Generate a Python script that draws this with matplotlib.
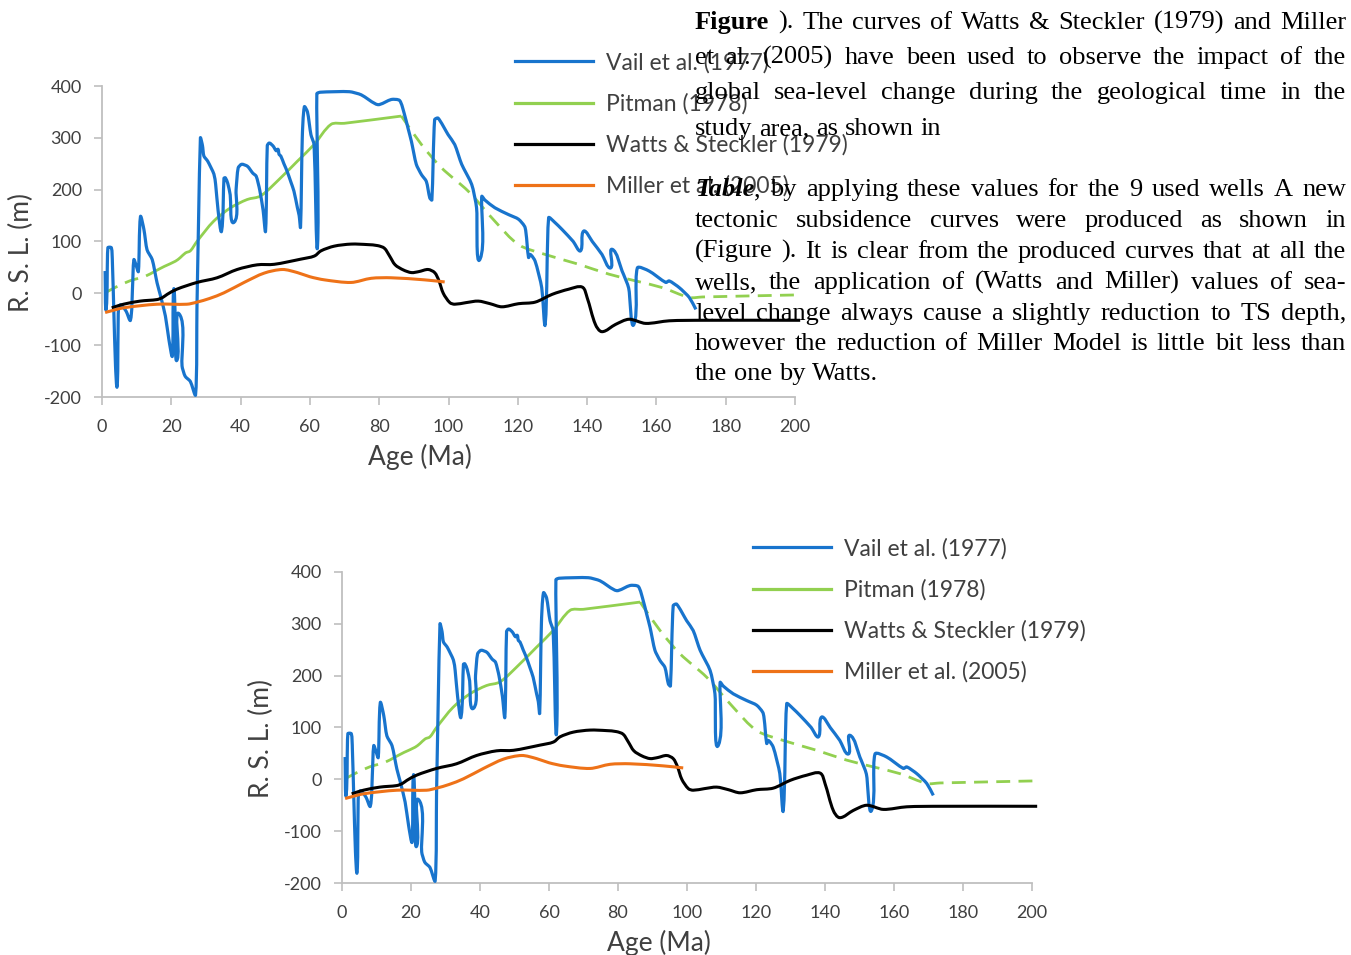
import re
import numpy as np
import matplotlib
matplotlib.use('Agg')
import matplotlib.pyplot as plt
from matplotlib.lines import Line2D
from matplotlib.path import Path
from matplotlib.patches import PathPatch

plt.rcParams['font.family'] = ['Lato', 'DejaVu Sans']
plt.rcParams['axes.unicode_minus'] = False

# Vail et al. (1977) relative sea level, age in Ma, RSL in m
vail_age = [0.9, 1.2, 1.7, 2.7, 3.0, 3.4, 3.9, 4.35, 4.6, 4.8, 5.5, 7.0, 8.2,
            8.8, 9.2, 9.8, 10.5, 11.1, 12.1, 13.0, 14.5, 15.9, 16.9, 18.3,
            19.3, 20.3, 20.7, 21.2, 21.7, 22.3, 23.1, 24.0, 25.5, 27.0,
            27.4, 28.4, 29.0, 29.4, 30.5, 32.3, 32.8, 33.5, 34.5, 35.2, 35.6, 36.3,
            37.0, 38.1, 38.7, 39.3, 40.3, 42.0, 43.5, 44.5, 45.5, 46.5, 47.2, 47.7,
            48.3, 49.4, 50.3, 50.8, 51.1, 51.6, 52.5, 53.4, 54.5, 55.4, 56.4, 56.9,
            57.3, 57.8, 58.4, 59.3, 60.3, 61.2, 62.2, 62.0, 63.0, 71.4, 74.8, 79.6,
            83.5, 85.9, 87.3, 88.3, 89.3, 90.7, 92.2, 93.6, 94.6, 95.2, 96.0, 97.0,
            99.9, 101.8, 103.8, 106.7, 108.1, 109.1, 109.6, 110.5, 113.4, 117.3, 120.2,
            122.1, 123.1, 123.6, 125.0, 126.9, 127.9, 128.9, 130.5, 132.8, 136.0,
            138.1, 139.0, 141.5, 144.3, 146.8, 147.2, 150.1, 152.0, 153.5, 154.5,
            157.9, 162.7, 163.7, 166.6, 169.5, 171.4]
vail_rsl = [43, -30, 88, 88, 60, -31, -140, -180, -95, -25, -22, -35, -52,
            10, 65, 55, 42, 148, 123, 84, 65, 20, -5, -44,
            -89, -121, 7, -60, -128, -40, -140, -160, -170, -196,
            -30, 300, 285, 265, 255, 230, 210, 160, 120, 222, 223, 212,
            190, 137, 200, 242, 249, 245, 232, 226, 200, 160, 120, 285,
            290, 284, 275, 278, 268, 265, 250, 236, 215, 197, 165, 150,
            127, 300, 360, 350, 306, 287, 92, 385, 388, 389, 383, 364,
            374, 372, 345, 319, 293, 249, 229, 216, 184, 180, 335, 338,
            306, 287, 249, 210, 165, 66, 187, 180, 165, 152, 143,
            127, 69, 75, 62, 11, -60, 146, 138, 123, 100,
            82, 120, 100, 75, 49, 85, 43, 10, -60, 49,
            43, 21, 24, 11, -8, -31]

# Pitman (1978): early extrapolation, data part, late extrapolation
pitman_early_age = [0.9, 4.0, 8.0, 12.5, 15.4]
pitman_early_rsl = [1, 12, 24, 33, 43]
pitman_age = [15.4, 18.0, 21.2, 22.6, 24.1, 25.5, 27.4, 32.2, 37.1, 41.9, 45.8,
              51.6, 56.4, 61.2, 66.1, 69.9, 86.4]
pitman_rsl = [43, 52, 62, 69, 78, 82, 100, 139, 165, 181, 188,
              223, 255, 287, 326, 328, 342]
pitman_late_age = [86.4, 92.2, 98.0, 105.7, 113.4, 120.2, 127.9, 137.6, 146.3,
                   154.0, 161.7, 169.5, 173.3, 201.0]
pitman_late_rsl = [342, 287, 242, 197, 139, 94, 75, 56, 37, 24, 11, -8, -7, -3]

# Watts & Steckler (1979)
watts_age = [2.8, 6.2, 11.0, 15.9, 17.5, 18.8, 21.6, 27.4, 33.2, 39.0, 44.8, 49.7,
             57.4, 61.3, 63.2, 67.0, 71.9, 76.7, 79.6, 81.5, 83.0, 84.6, 87.0, 89.3,
             91.5, 94.1, 96.0, 97.2, 98.5, 100.4, 101.8, 105.0, 108.6, 112.0, 115.4,
             120.2, 125.0, 129.9, 134.7, 138.6, 140.0, 142.4, 144.3, 148.2, 152.1,
             156.9, 163.7, 173.3, 201.5]
watts_rsl = [-28, -21, -15, -12, -8, -2, 8, 21, 30, 46, 55, 56,
             66, 72, 82, 91, 95, 94, 92, 87, 72, 55, 45, 40,
             42, 46, 40, 25, 0, -18, -21, -18, -15, -20, -26,
             -20, -17, -2, 8, 12, -8, -60, -74, -60, -50,
             -58, -53, -52, -52]

# Miller et al. (2005)
miller_age = [0.9, 6.2, 15.9, 24.5, 27.4, 31.0, 35.2, 41.0, 46.8, 52.1, 56.4, 60.0,
              64.2, 71.9, 77.7, 83.5, 93.1, 98.9]
miller_rsl = [-37, -28, -21, -21, -17, -10, 1, 21, 39, 46, 40, 32,
              26, 21, 29, 30, 26, 22]

series_names = ['Vail et al. (1977)', 'Pitman (1978)', 'Watts & Steckler (1979)',
                'Miller et al. (2005)']
x_ticks = list(range(0, 201, 20))
y_ticks = list(range(-200, 401, 100))

BLUE = '#1874CD'
GREEN = '#92D050'
ORANGE = '#EE7218'
GREY = '#BFBFBF'
TXT = '#404040'

W, H = 1351, 955
fig = plt.figure(figsize=(W / 100, H / 100), dpi=100)


def px_box(left, top, right, bottom):
    return [left / W, 1 - bottom / H, (right - left) / W, (bottom - top) / H]


def smooth_line(ax, xs, ys, s=0.3, **kw):
    # smoothed polyline (bezier through every point), built in screen space
    pts = ax.transData.transform(np.column_stack([xs, ys]))
    tan = np.empty_like(pts)
    tan[0] = pts[1] - pts[0]
    tan[-1] = pts[-1] - pts[-2]
    tan[1:-1] = pts[2:] - pts[:-2]
    norm = np.linalg.norm(tan, axis=1, keepdims=True)
    tan = tan / np.where(norm == 0, 1, norm)
    verts = [pts[0]]
    codes = [Path.MOVETO]
    for i in range(len(pts) - 1):
        d = np.linalg.norm(pts[i + 1] - pts[i])
        verts += [pts[i] + tan[i] * d * s, pts[i + 1] - tan[i + 1] * d * s, pts[i + 1]]
        codes += [Path.CURVE4] * 3
    verts = ax.transData.inverted().transform(np.array(verts))
    patch = PathPatch(Path(verts, codes), fill=False, capstyle='butt',
                      joinstyle='round', **kw)
    ax.add_patch(patch)
    return patch


def draw_chart(ax):
    ax.set_xlim(0, 200)
    ax.set_ylim(-200, 400)

    smooth_line(ax, vail_age, vail_rsl, s=0.22, edgecolor=BLUE, lw=2.3, zorder=3)
    smooth_line(ax, pitman_early_age, pitman_early_rsl, edgecolor=GREEN, lw=2.0,
                linestyle=(0, (5, 3)), zorder=2)
    smooth_line(ax, pitman_age, pitman_rsl, edgecolor=GREEN, lw=2.0, zorder=2)
    smooth_line(ax, pitman_late_age, pitman_late_rsl, edgecolor=GREEN, lw=2.0,
                linestyle=(0, (5, 3)), zorder=2, clip_on=False)
    smooth_line(ax, watts_age, watts_rsl, edgecolor='black', lw=2.2, zorder=4, clip_on=False)
    smooth_line(ax, miller_age, miller_rsl, edgecolor=ORANGE, lw=2.2, zorder=5)

    ax.set_xticks(x_ticks)
    ax.set_yticks(y_ticks)
    for side in ['top', 'right']:
        ax.spines[side].set_visible(False)
    for side in ['left', 'bottom']:
        ax.spines[side].set_color(GREY)
        ax.spines[side].set_linewidth(1.3)
    ax.tick_params(axis='both', colors=GREY, labelcolor=TXT, labelsize=13,
                   length=5.5, width=1.2)
    ax.tick_params(axis='x', pad=10)
    ax.tick_params(axis='y', pad=9)
    ax.set_xlabel('Age (Ma)', fontsize=19, color=TXT)
    ax.set_ylabel('R. S. L. (m)', fontsize=19, color=TXT)
    ax.xaxis.set_label_coords(0.459, -0.15)
    ax.yaxis.set_label_coords(-0.098, 0.465)

    handles = [Line2D([], [], color=c, lw=2.3) for c in [BLUE, GREEN, 'black', ORANGE]]
    ax.legend(handles, series_names, loc='upper left', bbox_to_anchor=(0.596, 1.11),
              frameon=False, fontsize=16.5, borderpad=0, borderaxespad=0,
              handlelength=3.4, handletextpad=0.55, labelspacing=0.86,
              labelcolor=TXT)


ax_top = fig.add_axes(px_box(102, 86, 795, 397))
ax_bot = fig.add_axes(px_box(342, 572, 1032, 883))
draw_chart(ax_top)
draw_chart(ax_bot)

# paragraph set over the upper chart, justified between two margins
para_lines = [
    ("**Figure** ). The curves of Watts & Steckler (1979) and Miller", 29, True),
    ("et al. (2005) have been used to observe the impact of the", 64, True),
    ("global sea-level change during the geological time in the", 99, True),
    ("study area, as shown in", 135, False),
    ("***Table***, by applying these values for the 9 used wells A new", 196, True),
    ("tectonic subsidence curves were produced as shown in", 227, True),
    ("(Figure ). It is clear from the produced curves that at all the", 258, True),
    ("wells, the application of (Watts and Miller) values of sea-", 289, True),
    ("level change always cause a slightly reduction to TS depth,", 320, True),
    ("however the reduction of Miller Model is little bit less than", 350, True),
    ("the one by Watts.", 380, False),
]
TEXT_LEFT, TEXT_RIGHT = 695, 1346
serif = dict(fontsize=19, family=['Liberation Serif', 'DejaVu Serif'], color='black')
renderer = fig.canvas.get_renderer()
space_px = 0.25 * serif['fontsize'] * 100 / 72

for line, baseline, justify in para_lines:
    words = []
    for word in line.split(' '):
        parts = []
        for seg in re.split(r'(\*\*\*[^*]+\*\*\*|\*\*[^*]+\*\*)', word):
            if not seg:
                continue
            style = {}
            if seg.startswith('***'):
                style = dict(weight='bold', style='italic')
            elif seg.startswith('**'):
                style = dict(weight='bold')
            t = fig.text(0, 1 - baseline / H, seg.strip('*'), va='baseline', **serif, **style)
            parts.append(t)
        words.append(parts)
    widths = [sum(t.get_window_extent(renderer).width for t in parts) for parts in words]
    gap = space_px
    if justify and len(words) > 1:
        gap = (TEXT_RIGHT - TEXT_LEFT - sum(widths)) / (len(words) - 1)
    x = TEXT_LEFT
    for parts in words:
        for t in parts:
            t.set_x(x / W)
            x += t.get_window_extent(renderer).width
        x += gap

fig.savefig('out.png', dpi=100)
